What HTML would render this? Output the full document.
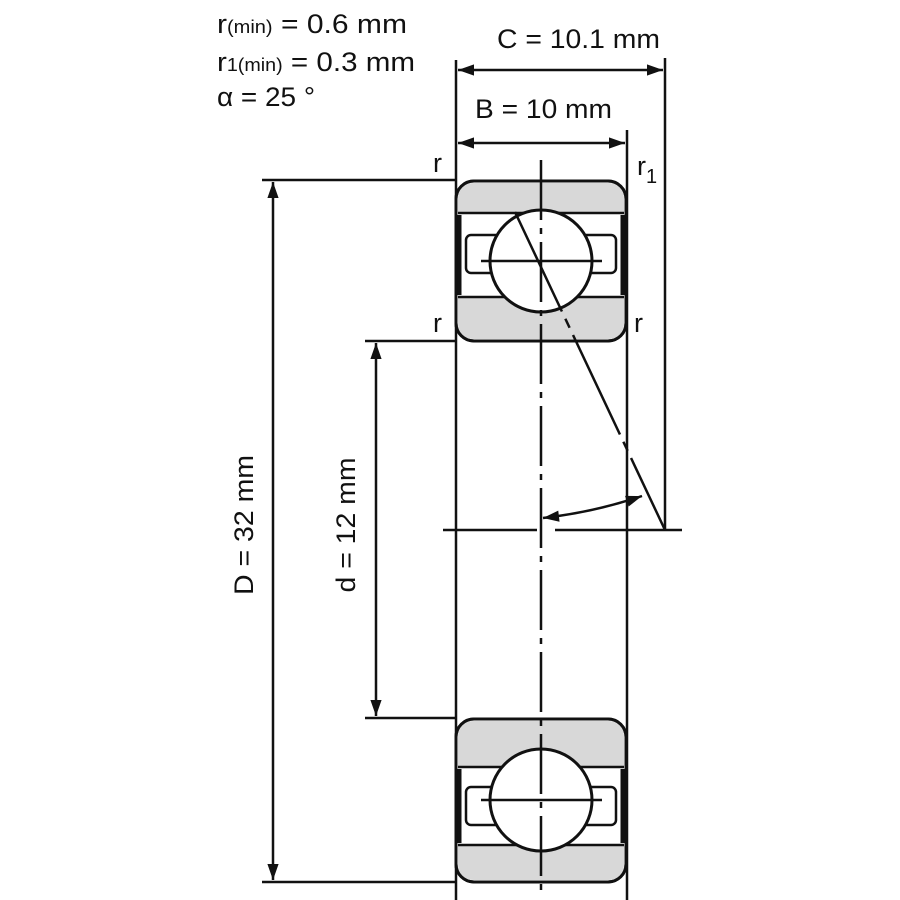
<!DOCTYPE html>
<html><head><style>html,body{margin:0;padding:0;background:#fff}svg{display:block}text{font-family:"Liberation Sans",sans-serif;fill:#111}</style></head>
<body>
<svg width="900" height="900" viewBox="0 0 900 900" xmlns="http://www.w3.org/2000/svg">
<defs>
<marker id="b" viewBox="0 0 10 10" refX="10" refY="5" markerWidth="26" markerHeight="16" markerUnits="userSpaceOnUse" orient="auto-start-reverse"><path d="M0,1.5 L10,5 L0,8.5 z" fill="#111"/></marker>
</defs>
<text x="217" y="33" font-size="27" textLength="190" lengthAdjust="spacingAndGlyphs">r<tspan font-size="18">(min)</tspan> = 0.6 mm</text>
<text x="217" y="71" font-size="27" textLength="198" lengthAdjust="spacingAndGlyphs">r<tspan font-size="18">1(min)</tspan> = 0.3 mm</text>
<text x="217" y="106" font-size="27" textLength="98" lengthAdjust="spacingAndGlyphs">α = 25 °</text>
<text x="497" y="48" font-size="27" textLength="163" lengthAdjust="spacingAndGlyphs">C = 10.1 mm</text>
<text x="475" y="118" font-size="27" textLength="137" lengthAdjust="spacingAndGlyphs">B = 10 mm</text>
<text x="433" y="172" font-size="27">r</text>
<text x="433" y="332" font-size="27">r</text>
<text x="634" y="332" font-size="27">r</text>
<text x="637" y="175" font-size="27">r<tspan font-size="20" dy="8">1</tspan></text>
<text transform="translate(253,525) rotate(-90)" font-size="27" text-anchor="middle" textLength="140" lengthAdjust="spacingAndGlyphs">D = 32 mm</text>
<text transform="translate(355,525) rotate(-90)" font-size="27" text-anchor="middle" textLength="135" lengthAdjust="spacingAndGlyphs">d = 12 mm</text>

<g stroke="#111" stroke-width="3" fill="none">
<g>
<rect x="456" y="181" width="170" height="160" rx="18" fill="#fff"/>
<path d="M458,213 V199 Q458,183 474,183 H608 Q624,183 624,199 V213 Z" fill="#d8d8d8" stroke="none"/>
<path d="M458,297 V323 Q458,339 474,339 H608 Q624,339 624,323 V297 Z" fill="#d8d8d8" stroke="none"/>
<rect x="456" y="181" width="170" height="160" rx="18"/>
<path d="M458,213 H624 M458,297 H624" stroke-width="2.5"/>
<line x1="458" y1="215" x2="458" y2="295" stroke-width="7"/>
<line x1="624" y1="215" x2="624" y2="295" stroke-width="7"/>
<rect x="466" y="235" width="40" height="38" rx="5" stroke-width="2.5"/>
<rect x="576" y="235" width="40" height="38" rx="5" stroke-width="2.5"/>
<circle cx="541" cy="261" r="51" fill="#fff"/>
<line x1="481" y1="261" x2="602" y2="261" stroke-width="2.5"/>
</g>
<g transform="translate(0,538)">
<rect x="456" y="181" width="170" height="163" rx="18" fill="#fff"/>
<path d="M458,229 V199 Q458,183 474,183 H608 Q624,183 624,199 V229 Z" fill="#d8d8d8" stroke="none"/>
<path d="M458,307 V326 Q458,342 474,342 H608 Q624,342 624,326 V307 Z" fill="#d8d8d8" stroke="none"/>
<rect x="456" y="181" width="170" height="163" rx="18"/>
<path d="M458,229 H624 M458,307 H624" stroke-width="2.5"/>
<line x1="458" y1="231" x2="458" y2="305" stroke-width="7"/>
<line x1="624" y1="231" x2="624" y2="305" stroke-width="7"/>
<rect x="466" y="249" width="40" height="38" rx="5" stroke-width="2.5"/>
<rect x="576" y="249" width="40" height="38" rx="5" stroke-width="2.5"/>
<circle cx="541" cy="262" r="51" fill="#fff"/>
<line x1="481" y1="262" x2="602" y2="262" stroke-width="2.5"/>
</g>
<line x1="456" y1="60" x2="456" y2="900" stroke-width="2.5"/>
<line x1="627" y1="130" x2="627" y2="900" stroke-width="2.5"/>
<line x1="665" y1="58" x2="665" y2="530" stroke-width="2.5"/>
<line x1="262" y1="180" x2="456" y2="180" stroke-width="2.5"/>
<line x1="262" y1="882" x2="456" y2="882" stroke-width="2.5"/>
<line x1="365" y1="341" x2="456" y2="341" stroke-width="2.5"/>
<line x1="365" y1="718" x2="456" y2="718" stroke-width="2.5"/>
<line x1="458" y1="70" x2="663" y2="70" stroke-width="2.5" marker-start="url(#b)" marker-end="url(#b)"/>
<line x1="458" y1="143" x2="625" y2="143" stroke-width="2.5" marker-start="url(#b)" marker-end="url(#b)"/>
<line x1="273" y1="182" x2="273" y2="880" stroke-width="2.5" marker-start="url(#b)" marker-end="url(#b)"/>
<line x1="376" y1="343" x2="376" y2="716" stroke-width="2.5" marker-start="url(#b)" marker-end="url(#b)"/>
<line x1="541" y1="160" x2="541" y2="896" stroke-width="2.5" stroke-dasharray="60,8,6,8"/>
<line x1="443" y1="530" x2="537" y2="530" stroke-width="2.5"/>
<line x1="555" y1="530" x2="682" y2="530" stroke-width="2.5"/>
<line x1="515" y1="212" x2="665" y2="530" stroke-width="2.5" stroke-dasharray="110,8,10,8"/>
<path d="M543,518 Q595,512 642,496" stroke-width="2.5" marker-start="url(#b)" marker-end="url(#b)"/>
</g>
</svg>
</body></html>
